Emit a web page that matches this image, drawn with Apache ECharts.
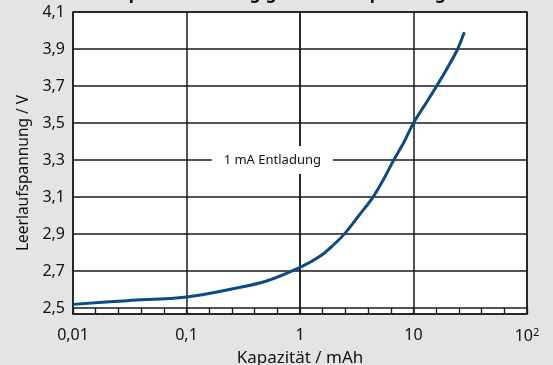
<!DOCTYPE html>
<html>
<head>
<meta charset="utf-8">
<script src="https://cdn.jsdelivr.net/npm/echarts@6/dist/echarts.min.js"></script>
<style>html,body{margin:0;padding:0;background:#e3e4e3;}#c{width:553px;height:365px;}</style>
</head>
<body>
<div id="c"></div>
<script>
var titleText = 'Kapazitätsabhängige Leerlaufspannung';
var xName = 'Kapazität / mAh';
var yName = 'Leerlaufspannung / V';
var annotationText = '1 mA Entladung';
var capacity = [0.01, 0.03, 0.1, 0.25, 0.5, 1, 1.5, 2, 2.5, 3.4, 4.4, 5.5, 6.7, 8.3, 10, 13.6, 16, 20, 24.5, 28];
var voltage  = [2.52, 2.54, 2.56, 2.603, 2.645, 2.72, 2.78, 2.845, 2.905, 3.01, 3.1, 3.2, 3.3, 3.4, 3.5, 3.63, 3.7, 3.8, 3.9, 3.99];
var yTicks = [2.5, 2.7, 2.9, 3.1, 3.3, 3.5, 3.7, 3.9, 4.1];
var xTickValues = [0.01, 0.1, 1, 10, 100];
var xTickLabels = ['0,01', '0,1', '1', '10', '10{s|2}'];
var decadeRange = [-2, 2];
var annotationAt = [0.57, 3.3];

var chart = echarts.init(document.getElementById('c'), null, {renderer: 'canvas'});
var font = 'Noto Sans';
var lineCol = '#1a1a1a';
chart.setOption({
  backgroundColor: '#e3e4e3',
  animation: false,
  title: {
    text: titleText, left: 'center', top: -19,
    textStyle: {fontFamily: font, fontWeight: 'bold', fontSize: 17, color: '#111'}
  },
  grid: {left: 73, right: 26, top: 12, bottom: 51, show: true, backgroundColor: '#ffffff', borderColor: lineCol, borderWidth: 1.5,
         containLabel: false, outerBoundsMode: 'none'},
  xAxis: [{
    type: 'log', logBase: 10, min: 0.01, max: 100,
    name: xName, nameLocation: 'middle', nameGap: 33,
    nameTextStyle: {fontFamily: font, fontSize: 17, color: '#111'},
    axisLine: {show: true, lineStyle: {color: lineCol, width: 1.5}},
    axisTick: {show: true, inside: true, length: 6, lineStyle: {color: lineCol, width: 1.3}},
    minorTick: {show: false},
    splitLine: {show: true, lineStyle: {color: lineCol, width: 1.5}},
    axisLabel: {
      margin: 13, fontFamily: font, fontSize: 16, color: '#111',
      formatter: function (v) {
        for (var i = 0; i < xTickValues.length; i++) {
          if (Math.abs(Math.log10(v) - Math.log10(xTickValues[i])) < 1e-6) return xTickLabels[i];
        }
        return '';
      },
      rich: {s: {fontFamily: font, fontSize: 11, color: '#111', verticalAlign: 'top', padding: [0, 0, 8, 0]}}
    }
  }, {
    type: 'value', min: decadeRange[0], max: decadeRange[1], interval: 1, position: 'bottom',
    axisLine: {show: false},
    axisTick: {show: false, inside: true},
    minorTick: {show: true, splitNumber: 5, length: 6, lineStyle: {color: lineCol, width: 1.3}},
    splitLine: {show: false},
    axisLabel: {show: false}
  }],
  yAxis: {
    type: 'value', min: 2.468, max: 4.1,
    name: yName, nameLocation: 'middle', nameGap: 40,
    nameTextStyle: {fontFamily: font, fontSize: 15.5, color: '#111', padding: [0, 20, 0, 0]},
    axisLine: {show: true, lineStyle: {color: lineCol, width: 1.5}},
    axisTick: {show: false, customValues: yTicks},
    splitLine: {show: true, lineStyle: {color: lineCol, width: 1.5}},
    axisLabel: {
      customValues: yTicks, margin: 8, fontFamily: font, fontSize: 16, color: '#111',
      padding: [5, 0, 0, 0],
      formatter: function (v) { return v.toFixed(1).replace('.', ','); }
    }
  },
  series: [{
    type: 'line', smooth: 0.35, symbol: 'none', xAxisIndex: 0,
    data: capacity.map(function (c, i) { return [c, voltage[i]]; }),
    lineStyle: {color: '#0b4a85', width: 3},
    markPoint: {
      symbol: 'rect', symbolSize: [121, 28], silent: true,
      itemStyle: {color: '#ffffff'},
      label: {show: true, position: 'inside', formatter: annotationText, fontFamily: font, fontSize: 13, color: '#111'},
      data: [{coord: annotationAt}]
    }
  }]
});
</script>
</body>
</html>
